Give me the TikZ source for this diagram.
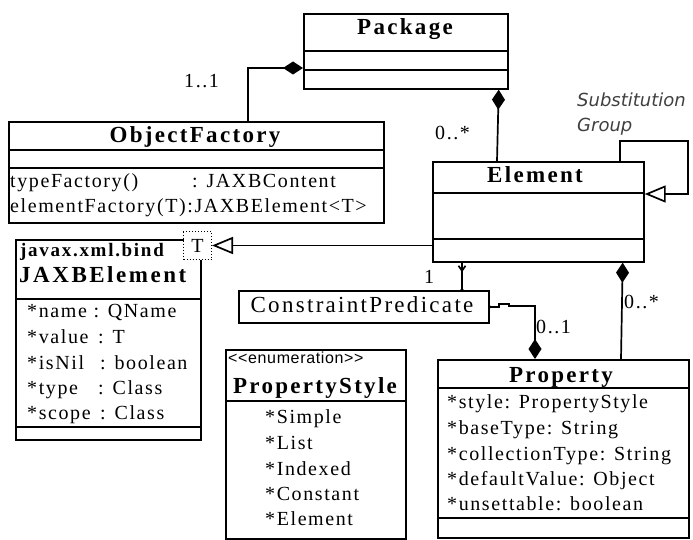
\documentclass[tikz,border=0pt]{standalone}
\usepackage{fontspec}
\setmainfont{Liberation Serif}
\newfontfamily\lsans{Liberation Sans}
\newfontfamily\dvsans{DejaVu Sans}
\usetikzlibrary{arrows.meta,calc,decorations.markings}
\newcommand\compline[2]{\draw[ln] ([yshift=-#2pt]#1.north west) -- ([yshift=-#2pt]#1.north east);}
\begin{document}
\begin{tikzpicture}[x=1pt,y=-1pt,
  ln/.style={line width=1.7pt},
  cls/.style={draw, line width=1.7pt, anchor=north west, inner sep=0pt, fill=white},
  ttl/.style={anchor=base, inner sep=0pt, font=\fontsize{23}{26}\selectfont\bfseries\addfontfeature{LetterSpace=10}},
  txt/.style={anchor=base west, inner sep=0pt, font=\fontsize{20}{24}\selectfont\addfontfeature{LetterSpace=8}},
  sub/.style={anchor=base west, inner sep=0pt, text=black!75, font=\dvsans\itshape\fontsize{18}{22}\selectfont},
  compo/.style={ln, -{Diamond[length=20pt,width=13pt]}},
  genl/.style={ln, -{Triangle[open,fill=white,length=21pt,width=17pt]}}
]
\useasboundingbox (0,0) rectangle (693,540);

% ---------- class boxes ----------
\node[cls, minimum width=204pt, minimum height=75pt] (pkg) at (303,13) {};
\compline{pkg}{38}\compline{pkg}{57}
\node[ttl] (pkgT) at (405,35) {Package};

\node[cls, minimum width=375pt, minimum height=101pt] (of) at (8,121) {};
\compline{of}{29}\compline{of}{47}
\node[ttl] (ofT) at (195,143) {ObjectFactory};
\node[txt] (of1) at (10,188) {\makebox[182pt][l]{typeFactory()}: JAXBContent};
\node[txt] (of2) at (10,212) {elementFactory(T):JAXBElement<T>};

\node[cls, minimum width=211pt, minimum height=100pt] (el) at (432,161) {};
\compline{el}{32}\compline{el}{78}
\node[ttl] (elT) at (535,183) {Element};

\node[cls, minimum width=185pt, minimum height=200pt] (jx) at (15,239) {};
\compline{jx}{60}\compline{jx}{188}
\node[txt, font=\fontsize{19}{22}\selectfont\bfseries\addfontfeature{LetterSpace=9}] (jx0) at (20,256) {javax.xml.bind};
\node[txt, font=\fontsize{23}{26}\selectfont\bfseries\addfontfeature{LetterSpace=11}] (jxT) at (19,282) {JAXBElement};
\node[txt] (jx1) at (27,317) {*name : QName};
\node[txt] (jx2) at (27,343) {\makebox[71pt][l]{*value}: T};
\node[txt] (jx3) at (27,369) {\makebox[73pt][l]{*isNil}: boolean};
\node[txt] (jx4) at (27,394) {\makebox[71pt][l]{*type}: Class};
\node[txt] (jx5) at (27,419) {\makebox[73pt][l]{*scope}: Class};
\node[draw, dotted, line width=1pt, fill=white, minimum width=28pt, minimum height=28pt,
      anchor=north west, inner sep=0pt, font=\fontsize{20}{24}\selectfont] (tb) at (183,231) {T};

\node[cls, minimum width=250pt, minimum height=32pt] (cp) at (238,290) {};
\node[anchor=base, inner sep=0pt, font=\fontsize{23}{26}\selectfont\addfontfeature{LetterSpace=10}] (cpT) at (362,312) {ConstraintPredicate};

\node[cls, minimum width=180pt, minimum height=189pt] (ps) at (225,349) {};
\compline{ps}{52}
\node[txt, font=\lsans\fontsize{16}{18}\selectfont\addfontfeature{LetterSpace=4}] (ps0) at (228,363) {<{}<enumeration>{}>};
\node[ttl] (psT) at (315,393) {PropertyStyle};
\node[txt] (ps1) at (265,423) {*Simple};
\node[txt] (ps2) at (265,449) {*List};
\node[txt] (ps3) at (265,475) {*Indexed};
\node[txt] (ps4) at (265,500) {*Constant};
\node[txt] (ps5) at (265,525) {*Element};

\node[cls, minimum width=251pt, minimum height=178pt] (pr) at (437,359) {};
\compline{pr}{29}\compline{pr}{159}
\node[ttl] (prT) at (561,382) {Property};
\node[txt] (pr1) at (447,408) {*style: PropertyStyle};
\node[txt] (pr2) at (447,434) {*baseType: String};
\node[txt] (pr3) at (447,460) {*collectionType: String};
\node[txt] (pr4) at (447,485) {*defaultValue: Object};
\node[txt] (pr5) at (447,510) {*unsettable: boolean};

% ---------- connectors ----------
\draw[compo] ([xshift=240pt]of.north west) |- ([yshift=-55pt]pkg.north west);
\draw[compo] ([xshift=65pt]el.north west) -- ([xshift=-10pt]pkg.south east);
\draw[genl] ([xshift=-25pt]el.north east) |- ([xshift=43pt,yshift=20pt]el.north east) |- ([yshift=-33pt]el.north east);
\draw[genl] (el.west |- tb.east) -- (tb.east);
\draw[ln, postaction={decorate}, decoration={markings, mark=at position 0.35 with {\arrow{Straight Barb[length=5pt,width=7pt]}}}]
  ([xshift=30pt]el.south west) -- ([xshift=30pt]el.south west |- cp.north);
\fill ([xshift=30pt]el.south west |- cp.north) circle (1.8pt);
\fill (cp.east) circle (1.8pt);
\draw[compo] (cp.east) -- ++(9,0) -- ++(0,-3) -- ++(10,0) -- ++(0,2) -| ([xshift=98pt]pr.north west);
\draw[compo] ([xshift=184pt]pr.north west) -- ([xshift=-22pt]el.south east);

% ---------- labels ----------
\node[txt] (l11) at (184,88) {1..1};
\node[txt] (l0s) at (435,140) {0..*};
\node[sub] (s1) at (577,107) {Substitution};
\node[sub] (s2) at (577,132) {Group};
\node[txt] (l1) at (424,283) {1};
\node[txt] (l01) at (536,333) {0..1};
\node[txt] (l0s2) at (624,308) {0..*};
\end{tikzpicture}
\end{document}
